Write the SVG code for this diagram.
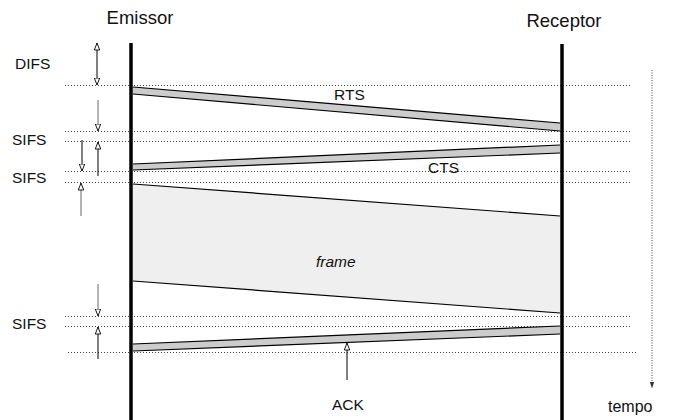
<svg xmlns="http://www.w3.org/2000/svg" width="675" height="420" viewBox="0 0 675 420">
<style>
text{font-family:"Liberation Sans",Arial,sans-serif;fill:#111}
.hdr{font-size:18.5px}
.lbl{font-size:15.5px}
.dot{stroke:#444;stroke-width:1;stroke-dasharray:1 2;fill:none}
.life{stroke:#000;stroke-width:3.5}
.band{fill:#cccccc;stroke:none}
.edge{stroke:#000;stroke-width:1.2;fill:none}
.arr{stroke:#000;stroke-width:1;fill:none}
.arrg{stroke:#666;stroke-width:1;fill:none}
</style>
<defs>
<marker id="ah" viewBox="0 0 8 8" refX="7.5" refY="4" markerWidth="8" markerHeight="8" markerUnits="userSpaceOnUse" orient="auto-start-reverse">
<path d="M0.5,1.3 L7.5,4 L0.5,6.7 Z" fill="#fff" stroke="#000" stroke-width="0.9"/>
</marker>
<marker id="ahd" viewBox="0 0 8 8" refX="7.5" refY="4" markerWidth="7" markerHeight="7" markerUnits="userSpaceOnUse" orient="auto">
<path d="M0.5,1.5 L7.5,4 L0.5,6.5 Z" fill="#333"/>
</marker>
</defs>
<g id="gridlines">
<line class="dot" x1="65" y1="85.5" x2="632" y2="85.5"/>
<line class="dot" x1="65" y1="131.5" x2="632" y2="131.5"/>
<line class="dot" x1="65" y1="141.5" x2="632" y2="141.5"/>
<line class="dot" x1="65" y1="171.5" x2="632" y2="171.5"/>
<line class="dot" x1="65" y1="182.5" x2="632" y2="182.5"/>
<line class="dot" x1="65" y1="316.5" x2="632" y2="316.5"/>
<line class="dot" x1="65" y1="326.5" x2="632" y2="326.5"/>
<line class="dot" x1="68" y1="352.5" x2="636" y2="352.5"/>
</g>
<g id="frame">
<polygon points="133,184 560,216 560,313 133,281" fill="#efefef"/>
<line class="edge" x1="133" y1="184" x2="560" y2="216"/>
<line class="edge" x1="133" y1="281" x2="560" y2="313"/>
<text class="lbl" x="316" y="267" font-style="italic">frame</text>
</g>
<g id="rts">
<polygon class="band" points="133,87 560,123 560,131 133,94"/>
<line class="edge" x1="133" y1="87" x2="560" y2="123"/>
<line class="edge" x1="133" y1="94" x2="560" y2="131"/>
<text class="lbl" x="334" y="100">RTS</text>
</g>
<g id="cts">
<polygon class="band" points="133,164 560,145 560,153 133,170"/>
<line class="edge" x1="133" y1="164" x2="560" y2="145"/>
<line class="edge" x1="133" y1="170" x2="560" y2="153"/>
<text class="lbl" x="428" y="173">CTS</text>
</g>
<g id="ack">
<polygon class="band" points="133,344 560,326 560,334 133,351"/>
<line class="edge" x1="133" y1="344" x2="560" y2="326"/>
<line class="edge" x1="133" y1="351" x2="560" y2="334"/>
<text class="lbl" x="332" y="410">ACK</text>
</g>
<g id="emissor">
<line class="life" x1="131" y1="43" x2="131" y2="420"/>
<text class="hdr" x="140" y="24" text-anchor="middle">Emissor</text>
</g>
<g id="receptor">
<line class="life" x1="562" y1="44" x2="562" y2="420"/>
<text class="hdr" x="564" y="27" text-anchor="middle">Receptor</text>
</g>
<g id="labels">
<text class="lbl" x="15" y="69">DIFS</text>
<text class="lbl" x="12" y="145">SIFS</text>
<text class="lbl" x="12" y="183">SIFS</text>
<text class="lbl" x="12" y="329">SIFS</text>
<text x="608" y="412" style="font-size:16px">tempo</text>
</g>
<g id="connectors">
<line class="arr" x1="97" y1="43" x2="97" y2="85" marker-start="url(#ah)" marker-end="url(#ah)"/>
<line class="arrg" x1="98" y1="100" x2="98" y2="131" marker-end="url(#ah)"/>
<line class="arr" x1="82" y1="140" x2="82" y2="171" marker-end="url(#ah)"/>
<line class="arr" x1="98" y1="176" x2="98" y2="142" marker-end="url(#ah)"/>
<line class="arrg" x1="81" y1="216" x2="81" y2="183" marker-end="url(#ah)"/>
<line class="arrg" x1="98" y1="284" x2="98" y2="316" marker-end="url(#ah)"/>
<line class="arr" x1="98" y1="359" x2="98" y2="327" marker-end="url(#ah)"/>
<line class="arr" x1="347" y1="380" x2="347" y2="343" marker-end="url(#ah)"/>
<line x1="652" y1="70" x2="652" y2="388" stroke="#444" stroke-width="1" stroke-dasharray="1 1.5" marker-end="url(#ahd)"/>
</g>
</svg>
